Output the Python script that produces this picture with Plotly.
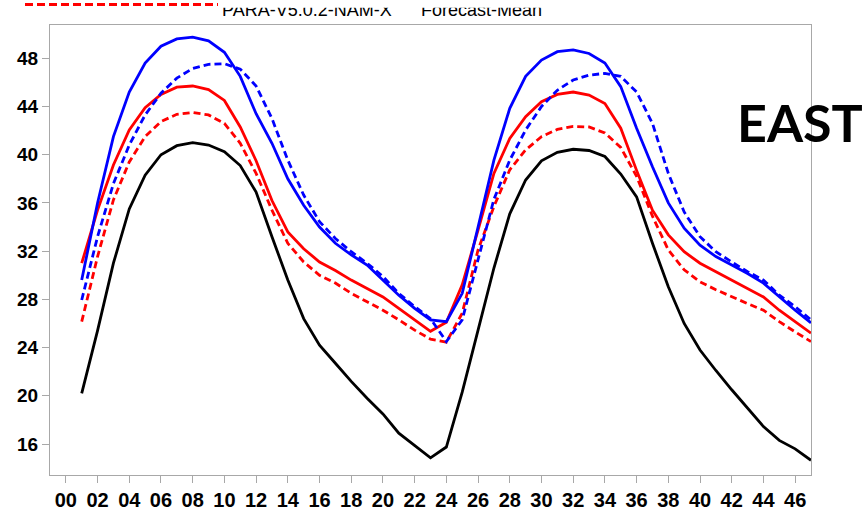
import plotly.graph_objects as go

# ---------------- data ----------------
hours = list(range(1, 48))

obs_black = [20.2, 25.4, 31.0, 35.5, 38.3, 40.0, 40.75, 41.0, 40.8, 40.25, 39.1, 36.9,
             33.2, 29.6, 26.4, 24.2, 22.7, 21.2, 19.8, 18.5, 16.9, 15.9, 14.85, 15.75,
             20.3, 25.45, 30.6, 35.1, 37.9, 39.5, 40.2, 40.45, 40.35, 39.85, 38.4, 36.5,
             32.65, 29.05, 26.0, 23.8, 22.1, 20.5, 18.95, 17.45, 16.3, 15.6, 14.65]

red_solid = [31.0, 35.4, 39.15, 42.05, 43.9, 45.0, 45.6, 45.7, 45.4, 44.5, 42.3, 39.5,
             36.2, 33.6, 32.2, 31.1, 30.4, 29.6, 28.9, 28.2, 27.25, 26.3, 25.35, 26.1,
             29.2, 33.75, 38.45, 41.35, 43.15, 44.4, 45.0, 45.2, 44.95, 44.25, 42.2, 38.7,
             35.4, 33.35, 31.95, 31.0, 30.3, 29.6, 28.9, 28.2, 27.1, 26.15, 25.2]

blue_solid = [29.6, 36.0, 41.5, 45.2, 47.6, 49.0, 49.6, 49.75, 49.45, 48.5, 46.5, 43.4,
              40.95, 38.0, 35.8, 34.0, 32.65, 31.7, 30.85, 29.6, 28.35, 27.25, 26.3, 26.15,
              28.5, 34.0, 39.55, 43.85, 46.5, 47.85, 48.55, 48.7, 48.4, 47.6, 45.65, 42.2,
              39.0, 36.0, 33.9, 32.5, 31.55, 30.85, 30.15, 29.35, 28.2, 27.1, 26.05]

blue_dash = [27.95, 33.2, 37.6, 40.8, 43.3, 45.1, 46.35, 47.15, 47.5, 47.55, 47.1, 45.7,
             43.0, 39.55, 36.65, 34.45, 33.05, 31.95, 31.0, 29.9, 28.5, 27.4, 26.4, 24.5,
             26.3, 31.25, 36.3, 39.55, 42.05, 44.0, 45.35, 46.2, 46.6, 46.75, 46.5, 45.2,
             42.6, 38.45, 35.25, 33.2, 31.95, 31.1, 30.3, 29.6, 28.35, 27.4, 26.3]

red_dash = [26.15, 31.55, 36.25, 39.4, 41.5, 42.75, 43.35, 43.5, 43.3, 42.6, 40.95, 38.45,
            35.4, 32.65, 31.1, 30.0, 29.35, 28.5, 27.8, 27.1, 26.3, 25.45, 24.7, 24.45,
            26.85, 32.1, 35.7, 38.75, 40.4, 41.5, 42.1, 42.35, 42.3, 41.8, 40.6, 38.2,
            34.9, 32.1, 30.45, 29.45, 28.8, 28.2, 27.65, 27.1, 26.15, 25.3, 24.5]

x_tickvals = list(range(0, 47, 2))
x_ticktext = [f"{v:02d}" for v in x_tickvals]
y_tickvals = list(range(16, 49, 4))

legend_labels = ["PARA-V5.0.2-NAM-X", "Forecast-Mean"]
region_label = "EAST"

# ---------------- figure ----------------
W, H = 866, 513
ML, MR, MT, MB = 50, 55, 0, 38
plot_h = H - MT - MB          # paper height in px
plot_w = W - ML - MR
top_px = 25                   # top of main plot area (px from top)

fig = go.Figure()

line_w = 2.8
series = [
    (obs_black, "black", "solid"),
    (red_solid, "#ff0000", "solid"),
    (blue_solid, "#0000ff", "solid"),
    (red_dash, "#ff0000", "7px,4px"),
    (blue_dash, "#0000ff", "7px,4px"),
]
for ys, col, dash in series:
    fig.add_trace(go.Scatter(x=hours, y=ys, mode="lines",
                             line=dict(color=col, width=line_w, dash=dash),
                             showlegend=False, hoverinfo="skip",
                             xaxis="x", yaxis="y"))

# clipped legend text at the top (only lower part visible, as in reference)
fig.add_trace(go.Scatter(x=[222, 421], y=[11, 11], mode="text",
                         text=legend_labels, textposition="middle right",
                         textfont=dict(family="Liberation Sans", size=18, color="black"),
                         cliponaxis=True, showlegend=False, hoverinfo="skip",
                         xaxis="x2", yaxis="y2"))

axis_col = "#a8a8a8"
fig.update_layout(
    width=W, height=H,
    margin=dict(l=ML, r=MR, t=MT, b=MB, pad=0),
    paper_bgcolor="white", plot_bgcolor="white",
    xaxis=dict(range=[-1, 47], tickvals=x_tickvals, ticktext=x_ticktext,
               ticks="outside", ticklen=7, tickcolor=axis_col, tickwidth=1,
               showline=True, linecolor=axis_col, linewidth=1, mirror=True,
               showgrid=False, zeroline=False, anchor="y",
               tickfont=dict(family="Liberation Sans", size=20, color="black", weight="bold")),
    yaxis=dict(range=[13.43, 50.76], tickvals=y_tickvals,
               domain=[0, (plot_h - top_px) / plot_h],
               ticks="outside", ticklen=7, tickcolor=axis_col, tickwidth=1,
               showline=True, linecolor=axis_col, linewidth=1, mirror=True,
               showgrid=False, zeroline=False, anchor="x",
               tickfont=dict(family="Liberation Sans", size=19, color="black", weight="bold")),
    xaxis2=dict(range=[ML, W - MR], domain=[0, 1], visible=False, anchor="y2"),
    yaxis2=dict(range=[24, 7.7], domain=[(plot_h - 24) / plot_h, (plot_h - 7.7) / plot_h],
                visible=False, anchor="x2"),
    shapes=[dict(type="line", xref="paper", yref="paper",
                 x0=(25 - ML) / plot_w, x1=(218 - ML) / plot_w,
                 y0=(plot_h - 4.6) / plot_h, y1=(plot_h - 4.6) / plot_h,
                 line=dict(color="#ff0000", width=3, dash="8px,4px"))],
    annotations=[dict(text=region_label, xref="paper", yref="paper",
                      x=(800 - ML) / plot_w, y=(plot_h - 122) / plot_h,
                      xanchor="center", yanchor="middle", showarrow=False,
                      font=dict(family="Lato", size=52, color="black", weight="bold"))],
)

fig.write_html("out.html")
